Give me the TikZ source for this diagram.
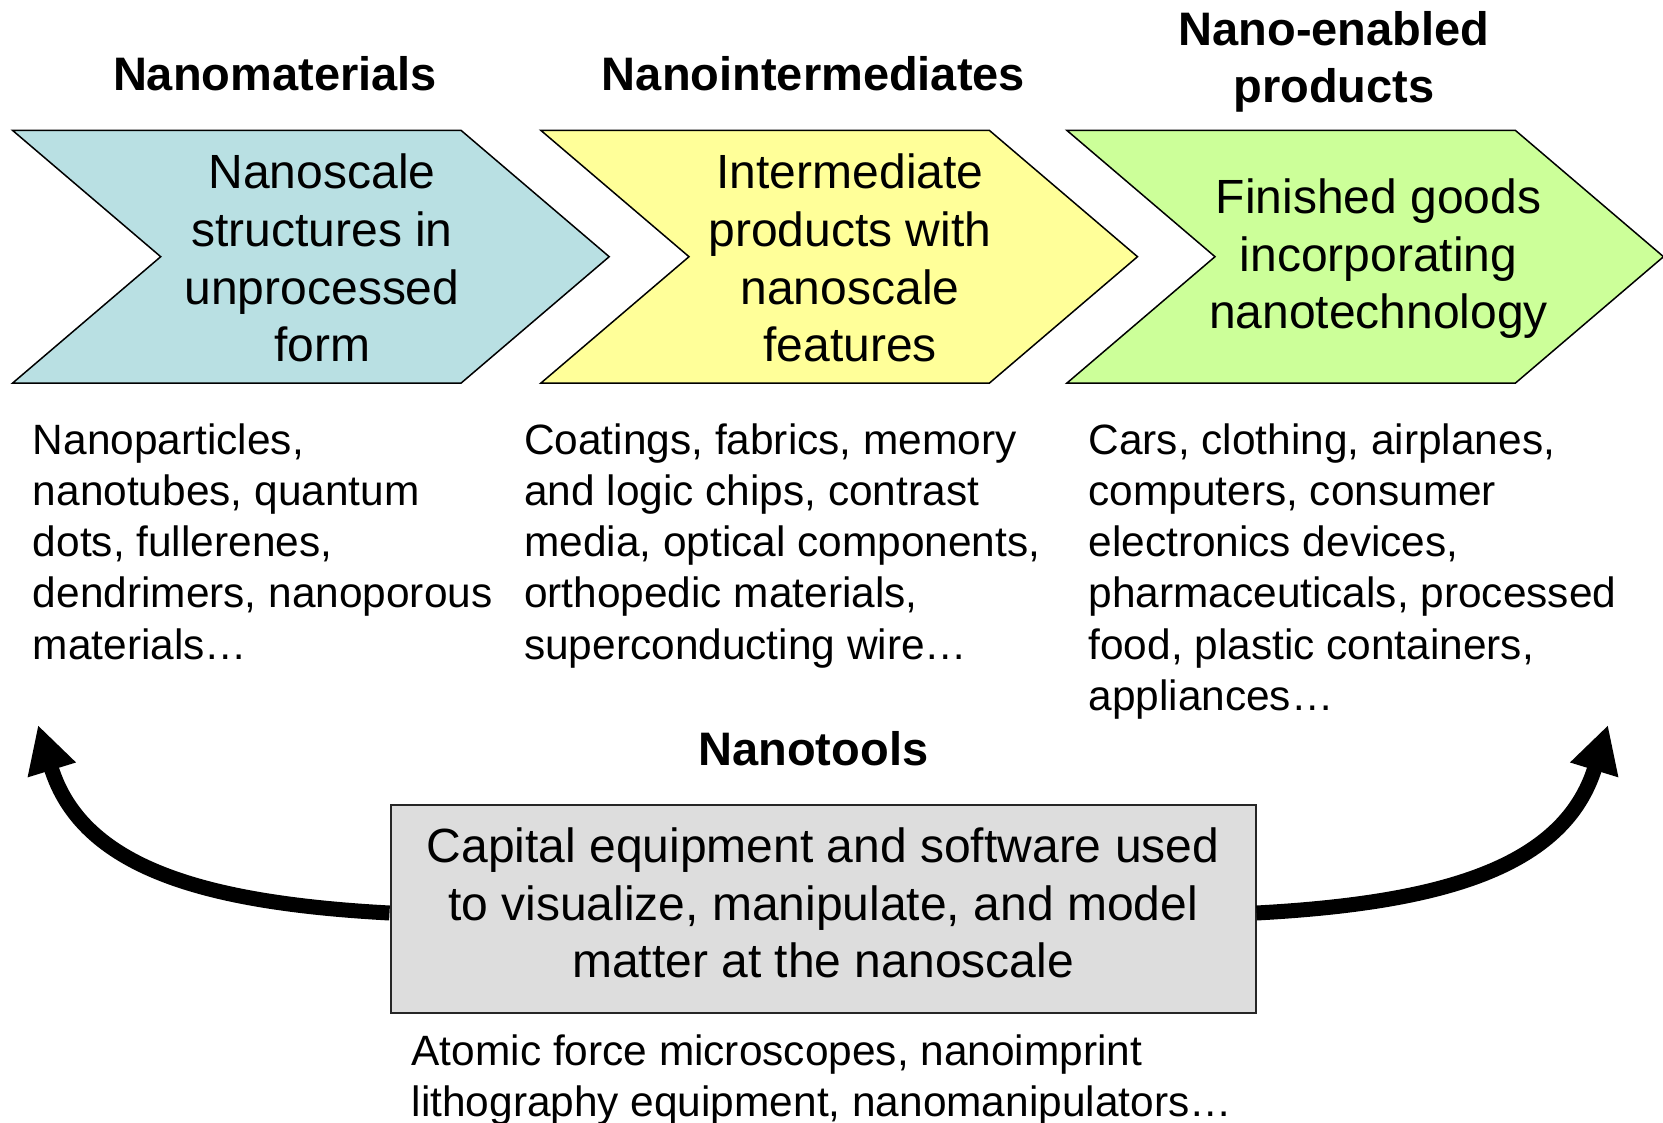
\documentclass[tikz,border=0pt]{standalone}
\usepackage{fontspec}
\setmainfont{Liberation Sans}
\usetikzlibrary{arrows.meta}
\definecolor{chblue}{HTML}{B9E0E3}
\definecolor{chyellow}{HTML}{FFFF99}
\definecolor{chgreen}{HTML}{CCFF99}
\definecolor{boxgray}{HTML}{DDDDDD}
\newcommand{\mlinesL}[1]{\begin{tabular}[t]{@{}l@{}}#1\end{tabular}}
\newcommand{\mlinesC}[1]{\begin{tabular}[t]{@{}c@{}}#1\end{tabular}}
\newcommand{\chevshape}[2]{\path[chev, fill=#2] (#1,130.5) -- ++(448.5,0) -- ++(148,126.2) -- ++(-148,126.3) -- ++(-448.5,0) -- ++(148,-126.3) -- cycle;}
\begin{document}
\begin{tikzpicture}[x=1pt,y=-1pt,
  chev/.style={draw=black, line width=1.5pt, line join=miter},
  headtext/.style={font=\fontsize{47}{57}\selectfont\bfseries, inner sep=0pt, anchor=base},
  chevtext/.style={font=\fontsize{48}{57.6}\selectfont, inner sep=0pt, anchor=base},
  desctext/.style={font=\fontsize{42.4}{51.3}\selectfont, inner sep=0pt, anchor=base west},
  toolbox/.style={draw=black!85, line width=2pt, fill=boxgray, minimum width=865pt, minimum height=208pt, inner sep=0pt, font=\fontsize{48}{57.6}\selectfont},
  bigarrow/.style={line width=15pt, -{Triangle[length=47pt,width=47pt]}}
]
\useasboundingbox (0,0) rectangle (1663,1123);

% chevrons
\chevshape{12.7}{chblue}
\chevshape{541}{chyellow}
\chevshape{1067}{chgreen}

% headings
\node[headtext] (h1) at (275,91) {Nanomaterials};
\node[headtext] (h2) at (813.5,91) {Nanointermediates};
\node[headtext] (h3) at (1334,46) {\mlinesC{Nano-enabled\\products}};

% chevron texts
\node[chevtext] (c1) at (322,189) {\mlinesC{Nanoscale\\structures in\\unprocessed\\form}};
\node[chevtext] (c2) at (850,189) {\mlinesC{Intermediate\\products with\\nanoscale\\features}};
\node[chevtext] (c3) at (1378.5,213.5) {\mlinesC{Finished goods\\incorporating\\nanotechnology}};

% descriptions
\node[desctext] (d1) at (32.7,454) {\mlinesL{Nanoparticles,\\nanotubes, quantum\\dots, fullerenes,\\dendrimers, nanoporous\\materials…}};
\node[desctext] (d2) at (524,454) {\mlinesL{Coatings, fabrics, memory\\and logic chips, contrast\\media, optical components,\\orthopedic materials,\\superconducting wire…}};
\node[desctext] (d3) at (1088.3,454) {\mlinesL{Cars, clothing, airplanes,\\computers, consumer\\electronics devices,\\pharmaceuticals, processed\\food, plastic containers,\\appliances…}};

% nanotools
\node[headtext] (h4) at (813.3,765) {Nanotools};
\node[toolbox] (tools) at (823,908.5) {\mlinesC{Capital equipment and software used\\to visualize, manipulate, and model\\matter at the nanoscale}};
\node[desctext] (d4) at (411.5,1065) {\mlinesL{Atomic force microscopes, nanoimprint\\lithography equipment, nanomanipulators…}};

% arrows
\coordinate (lt) at (38,725);
\coordinate (rt) at (1608,725);
\draw[bigarrow] ([yshift=-4.5pt]tools.west) .. controls (205,903) and (82,868) .. (lt);
\draw[bigarrow] ([yshift=-4.5pt]tools.east) .. controls (1441,903) and (1564,868) .. (rt);
\end{tikzpicture}
\end{document}
